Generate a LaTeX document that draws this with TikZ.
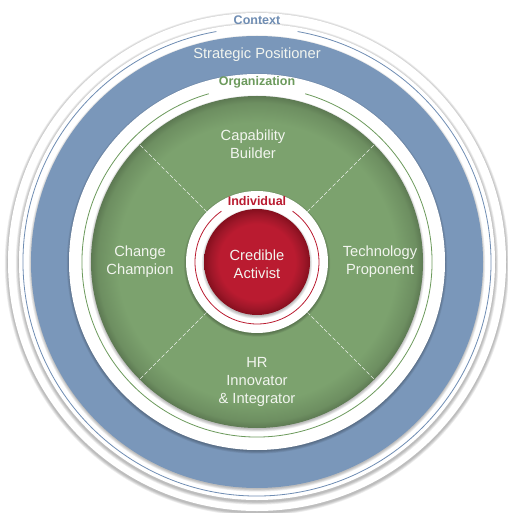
\documentclass[tikz,border=0pt]{standalone}
\usepackage{fontspec}
\setmainfont{Liberation Sans}
\usepackage{xcolor}
\definecolor{contextblue}{HTML}{7A97BA}
\definecolor{contextline}{HTML}{6F8DB3}
\definecolor{orggreen}{HTML}{7CA26E}
\definecolor{orgline}{HTML}{6C9A5C}
\definecolor{indivred}{HTML}{BA1B30}
\definecolor{indivdark}{HTML}{860F1E}
\definecolor{ringtext}{HTML}{F2F5EF}
\usetikzlibrary{calc}

\pgfdeclareradialshading{greendisc}{\pgfpoint{0bp}{0bp}}{%
  color(0bp)=(orggreen); color(21bp)=(orggreen);
  color(24bp)=(orggreen!88!black); color(25bp)=(orggreen!75!black);
  color(50bp)=(orggreen!75!black)}
\pgfdeclareradialshading{reddisc}{\pgfpoint{0bp}{0bp}}{%
  color(0bp)=(indivred); color(18bp)=(indivred);
  color(22bp)=(indivred!85!black); color(25bp)=(indivdark);
  color(50bp)=(indivdark)}

\newcommand{\softshadow}[1]{%
  \foreach \d in {0.8,1.6,...,4.0}
    \fill[black, opacity=0.07] (0,-1.5) circle (#1+\d);}

\tikzset{
  disc/.style={circle, inner sep=0pt, outer sep=0pt},
  rolename/.style={text=ringtext, align=center,
    font=\fontsize{14.7}{17.8}\selectfont},
  levelname/.style={font=\bfseries\fontsize{12.5}{15}\selectfont,
    inner sep=2pt},
  divider/.style={white, opacity=0.85, line width=0.7pt,
    dash pattern=on 4pt off 2pt}
}

\begin{document}
\begin{tikzpicture}[x=1pt, y=1pt]
  \useasboundingbox[fill=white] (-257,-251) rectangle (250,262);

  \softshadow{249}
  \node[disc, fill=white, minimum size=498pt] (outer) at (0,0) {};
  \softshadow{238}
  \node[disc, fill=white, minimum size=476pt] (contextring) at (0,0) {};
  \draw[contextline, line width=0.8pt]
    (100:234) arc[start angle=100, end angle=440, radius=234];

  \softshadow{225}
  \node[disc, fill=contextblue, minimum size=452pt] (band) at (0,0) {};
  \softshadow{187}
  \node[disc, fill=white, minimum size=376pt] (orgring) at (0,0) {};
  \draw[orgline, line width=0.8pt]
    (106:175) arc[start angle=106, end angle=434, radius=175];

  \softshadow{165}
  \node[disc, shade, shading=greendisc, minimum size=332pt] (org) at (0,0) {};

  \node[disc, minimum size=142pt] (hub) at (0,0) {};
  \foreach \a in {45,135,225,315}
    \draw[divider] (hub.\a) -- (org.\a);

  \softshadow{70}
  \node[disc, fill=white, minimum size=142pt] (indivring) at (0,0) {};
  \draw[indivred, line width=0.8pt]
    (125:62) arc[start angle=125, end angle=415, radius=62];
  \softshadow{52}
  \node[disc, shade, shading=reddisc, minimum size=106pt] (core) at (0,0) {};

  \node[levelname, text=contextline] (contextlabel) at (0,242) {Context};
  \node[rolename] (strategic) at (0,207) {Strategic Positioner};
  \node[levelname, text=orgline] (orglabel) at (0,180) {Organization};
  \node[rolename] (capability) at (-4,118) {Capability\\Builder};
  \node[rolename] (change) at (-117,0) {Change\\Champion};
  \node[rolename] (technology) at (123,0) {Technology\\Proponent};
  \node[rolename] (hr) at (0,-120) {HR\\Innovator\\\& Integrator};
  \node[levelname, text=indivred] (indivlabel) at (0,61) {Individual};
  \node[rolename] (credible) at (0,-2) {Credible\\Activist};
\end{tikzpicture}
\end{document}
